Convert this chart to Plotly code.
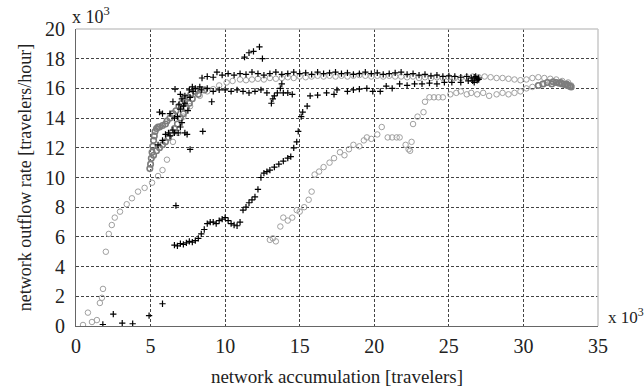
import plotly.graph_objects as go

# ---------------- data (values in thousands) ----------------
# black "+" series 1: low start, left cluster, middle and upper band
blk1_x = [1.8, 2.5, 3.1, 3.8, 4.9, 5.8, 6.7, 7.65, 8.5,
          5.5, 5.8, 6.0, 6.2, 6.3, 6.5, 6.6, 6.85, 7.0, 7.1, 7.3, 7.45,
          5.6, 5.8, 6.3, 6.6, 6.8, 7.0, 7.2, 7.3, 6.5, 6.64, 7.0, 7.3, 7.65, 7.85, 7.5, 6.9, 7.1, 9.1,
          7.6, 8.0, 8.4, 8.8, 9.2, 9.6, 10.0, 10.4, 10.8, 11.2, 11.6, 12.0, 12.4, 12.8,
          13.1, 13.2, 13.3, 13.5, 13.7, 13.8, 13.9, 14.2, 14.5,
          11.3, 11.6, 11.9, 12.3, 12.5,
          7.8, 8.3, 8.45, 8.8, 9.2, 9.45, 9.8, 10.2, 10.6, 11.0, 11.4, 11.8, 12.2, 12.6, 13.0,
          13.4, 13.8, 14.2, 14.6, 15.0, 15.4, 15.8, 16.2, 16.6, 17.0, 17.4, 17.8, 18.2, 18.6,
          19.0, 19.4, 19.8, 20.2, 20.6, 21.0, 21.4, 21.8, 22.2, 22.6, 23.0, 23.4, 23.8, 24.2,
          24.6, 25.0, 25.4, 25.8, 26.2, 26.5, 26.7, 26.9, 27.0]
blk1_y = [0.1, 0.8, 0.2, 0.15, 0.7, 1.5, 8.1, 11.9, 13.1,
          12.2, 12.5, 12.9, 13.0, 12.8, 13.2, 13.0, 13.0, 13.4, 13.7, 13.0, 12.9,
          14.4, 14.3, 14.3, 14.0, 14.1, 14.6, 14.8, 15.0, 15.1, 15.95, 15.6, 15.5, 15.4, 15.8, 14.5, 14.9, 15.3, 15.1,
          15.9, 16.0, 15.9, 16.0, 15.8, 15.9, 15.9, 15.8, 15.9, 15.8, 15.7, 15.8, 15.9, 15.7,
          15.0, 15.3, 15.5, 15.7, 16.0, 16.3, 15.7, 15.7, 15.6,
          18.1, 18.4, 18.5, 18.8, 18.0,
          16.1, 16.1, 16.7, 16.8, 16.75, 17.1, 16.9, 17.0, 16.9, 17.0, 16.95, 17.1, 17.0, 16.9, 17.0,
          17.1, 16.95, 17.0, 17.1, 17.0, 17.05, 16.95, 17.1, 17.0, 17.05, 17.1, 17.0, 17.05, 16.95,
          17.0, 17.1, 17.0, 17.05, 16.95, 17.0, 17.05, 17.1, 16.95, 17.0, 16.9, 16.95, 16.85, 16.9,
          16.8, 16.85, 16.8, 16.75, 16.8, 16.7, 16.75, 16.65, 16.7]

# black "+" series 2: rising branch from ~6.6k
blk2_x = [6.6, 6.8, 7.0, 7.2, 7.4, 7.6, 7.8, 8.0, 8.2, 8.4, 8.6, 8.8, 9.0, 9.2, 9.4, 9.6, 9.8,
          10.0, 10.2, 10.4, 10.6, 10.8, 11.0, 11.2, 11.4, 11.6, 11.8, 12.0, 12.2, 12.4, 12.6,
          12.8, 13.0, 13.3, 13.6, 13.9, 14.2, 14.4, 14.6, 14.8, 14.9, 15.1, 15.2, 15.5, 15.7,
          16.2, 16.8, 17.3, 17.5, 18.2, 18.6, 19.0, 19.5, 19.9, 20.4, 20.8, 21.2, 21.7, 22.2,
          22.7, 23.2, 23.7, 24.2, 24.7, 25.2, 25.8, 26.3, 26.6, 26.9, 27.0, 26.8, 26.7]
blk2_y = [5.45, 5.4, 5.55, 5.5, 5.6, 5.7, 5.65, 5.75, 5.9, 6.2, 6.5, 6.9, 7.0, 7.0, 6.9, 7.1, 7.2,
          7.3, 7.1, 6.9, 6.8, 6.75, 7.0, 7.8, 8.0, 8.3, 8.5, 8.7, 9.2, 10.0, 10.3,
          10.4, 10.5, 10.7, 10.9, 11.1, 11.3, 11.4, 12.0, 12.4, 13.1, 14.1, 14.4, 14.8, 15.5,
          15.55, 15.7, 15.6, 15.9, 15.8, 15.9, 15.95, 16.0, 15.8, 15.8, 16.15, 16.0, 16.3, 16.2,
          16.3, 16.3, 16.35, 16.3, 16.4, 16.4, 16.4, 16.5, 16.5, 16.55, 16.6, 16.8, 16.4]

# light grey circles, series 3: from origin to the upper band
gr1_x = [0.47, 0.8, 1.07, 1.4, 1.6, 1.74, 1.81, 2.0, 2.2, 2.4, 2.6, 2.95, 3.4, 3.75, 4.16,
         4.6, 5.1, 5.5, 5.8, 6.1, 6.5, 6.85, 7.2, 7.65, 8.3, 8.8, 9.2, 9.6, 10.1, 10.5, 11.0,
         11.4, 11.8, 12.2, 12.6, 13.0, 13.4, 13.8, 14.2, 14.6, 15.0, 15.4, 15.8, 16.2, 16.6,
         17.0, 17.4, 17.8, 18.2, 18.6, 19.0, 19.4, 19.8, 20.2, 20.6, 21.0, 21.4, 21.8, 22.2,
         22.6, 23.0, 23.4, 23.8, 24.2, 24.6, 25.0, 25.4, 25.8, 26.2, 26.6, 27.0, 27.4, 27.8,
         28.2, 28.6, 29.0, 29.4, 29.8, 30.2, 30.6, 31.0, 31.4, 31.8, 32.2, 32.6, 33.0, 33.2]
gr1_y = [0.07, 0.9, 0.27, 0.4, 1.55, 1.9, 2.5, 5.0, 6.2, 6.8, 7.3, 7.7, 8.2, 8.6, 9.05,
         9.3, 9.65, 10.1, 10.5, 11.2, 12.4, 13.0, 14.1, 14.8, 15.5, 15.8, 15.95, 16.2, 16.4, 16.5, 16.6,
         16.55, 16.6, 16.65, 16.6, 16.7, 16.65, 16.7, 16.75, 16.7, 16.8, 16.75, 16.8, 16.85, 16.8,
         16.85, 16.8, 16.85, 16.8, 16.85, 16.9, 16.85, 16.8, 16.85, 16.8, 16.85, 16.8, 16.8, 16.75,
         16.8, 16.7, 16.75, 16.7, 16.75, 16.7, 16.75, 16.7, 16.7, 16.75, 16.8, 16.75, 16.8, 16.75,
         16.7, 16.7, 16.65, 16.6, 16.55, 16.6, 16.7, 16.75, 16.7, 16.65, 16.6, 16.5, 16.4, 16.2]

# light grey circles, series 4: from ~13k to the lower band
gr2_x = [13.0, 13.2, 13.4, 13.7, 13.9, 14.2, 14.5, 14.8, 15.0, 15.3, 15.6, 15.8, 16.0, 16.3,
         16.6, 17.0, 17.3, 17.7, 18.0, 18.3, 18.6, 19.0, 19.3, 19.5, 19.8, 20.2, 20.5, 20.9,
         21.2, 21.5, 21.7, 22.1, 22.3, 22.4, 22.5, 22.6, 22.9, 23.3, 23.4, 23.7, 24.0, 24.3,
         24.6, 25.1, 25.5, 25.8, 26.2, 26.5, 26.9, 27.3, 27.7, 28.2, 28.6, 29.0, 29.4, 29.8,
         30.2, 30.6, 31.0, 31.4, 31.8, 32.2, 32.6, 32.9]
gr2_y = [5.8, 5.9, 5.7, 6.7, 7.3, 7.1, 7.3, 7.8, 7.7, 8.0, 8.5, 9.05, 10.2, 10.4,
         10.7, 11.0, 11.3, 11.7, 11.5, 11.9, 12.2, 12.1, 12.5, 12.7, 12.6, 12.9, 13.4, 12.7,
         12.7, 12.7, 12.7, 12.2, 11.9, 11.8, 12.4, 13.6, 14.1, 14.4, 15.1, 15.4, 15.4, 15.4,
         15.4, 15.6, 15.7, 15.8, 15.6, 15.7, 15.6, 15.7, 15.5, 15.6, 15.7, 15.6, 15.7, 15.8,
         16.0, 16.1, 16.2, 16.3, 16.4, 16.4, 16.3, 16.2]

# darker grey circles, series 5: dense cluster at left and at the right end
dg_x = [4.95, 5.0, 5.05, 5.1, 5.15, 5.2, 5.25, 5.3, 5.4, 5.5, 5.6, 5.8, 6.0, 6.1, 6.3, 6.5,
        6.7, 6.9, 7.1, 7.3, 7.5, 7.7, 8.0,
        5.2, 5.4, 5.6, 5.8, 6.0, 6.2, 6.4, 6.6, 6.8, 7.0, 7.2, 7.4, 7.6, 7.8, 8.2, 8.6,
        31.0, 31.3, 31.6, 31.9, 32.2, 32.4, 32.6, 32.8, 33.0, 33.1, 33.2, 32.9, 32.5, 32.0]
dg_y = [10.6, 10.9, 11.3, 11.7, 12.1, 12.5, 12.8, 13.1, 13.3, 13.4, 13.4, 13.5, 13.6, 13.8, 14.0, 14.3,
        14.5, 14.8, 15.0, 15.2, 15.4, 15.6, 15.8,
        11.5, 11.8, 12.0, 12.2, 12.4, 12.7, 13.0, 13.3, 13.6, 14.0, 14.3, 14.7, 15.0, 15.3, 15.6, 15.9,
        16.2, 16.3, 16.4, 16.3, 16.4, 16.35, 16.3, 16.25, 16.2, 16.15, 16.1, 16.3, 16.4, 16.45]

x_ticks = [0, 5, 10, 15, 20, 25, 30, 35]
y_ticks = [0, 2, 4, 6, 8, 10, 12, 14, 16, 18, 20]

FONT = "Liberation Serif"
TXT = "#222"

fig = go.Figure()
circle_style = dict(symbol="circle-open", size=5.5, color="#a0a0a0", line=dict(width=1))
fig.add_trace(go.Scatter(x=gr1_x, y=gr1_y, mode="markers", name="s3", marker=circle_style))
fig.add_trace(go.Scatter(x=gr2_x, y=gr2_y, mode="markers", name="s4", marker=circle_style))
fig.add_trace(go.Scatter(x=dg_x, y=dg_y, mode="markers", name="s5",
                         marker=dict(symbol="circle-open", size=5.5, color="#7d7d7d",
                                     line=dict(width=1.6))))
plus_style = dict(symbol="cross-thin", size=4.5, color="black", line=dict(width=1.2, color="black"))
fig.add_trace(go.Scatter(x=blk1_x, y=blk1_y, mode="markers", name="s1", marker=plus_style))
fig.add_trace(go.Scatter(x=blk2_x, y=blk2_y, mode="markers", name="s2", marker=plus_style))

tickfont = dict(family=FONT, size=20, color=TXT)

fig.update_layout(
    width=644, height=387, showlegend=False,
    margin=dict(l=76, r=46, t=29, b=61, autoexpand=False),
    paper_bgcolor="white", plot_bgcolor="white",
    font=dict(family=FONT, size=18, color=TXT),
    xaxis=dict(range=[0, 35], tickmode="array", tickvals=x_ticks, automargin=False,
               ticktext=[str(v) for v in x_ticks], tickfont=tickfont, ticklabelstandoff=2,
               showgrid=True, gridcolor="#444", gridwidth=1, griddash="3px,2px",
               zeroline=False, ticks="", showline=True, linecolor="#666", linewidth=1,
               title=dict(text="network accumulation [travelers]",
                          font=dict(family=FONT, size=19, color=TXT), standoff=18)),
    yaxis=dict(range=[0, 20], tickmode="array", tickvals=y_ticks, automargin=False,
               ticktext=[str(v) for v in y_ticks], tickfont=tickfont, ticklabelstandoff=6,
               showgrid=True, gridcolor="#444", gridwidth=1, griddash="3px,2px",
               zeroline=False, ticks="", showline=True, linecolor="#666", linewidth=1,
               title=dict(text="network outflow rate [travelers/hour]",
                          font=dict(family=FONT, size=18, color=TXT), standoff=8)),
)

# light top/right frame
fig.add_shape(type="line", xref="paper", yref="paper", x0=0, x1=1, y0=1, y1=1,
              line=dict(color="#c8c8c8", width=1.5))
fig.add_shape(type="line", xref="paper", yref="paper", x0=1, x1=1, y0=0, y1=1,
              line=dict(color="#c8c8c8", width=1.5))

fig.add_annotation(text="x 10<sup>3</sup>", xref="paper", yref="paper", x=-0.012, y=1.0,
                   xanchor="left", yanchor="bottom", showarrow=False,
                   font=dict(family=FONT, size=18, color=TXT))
fig.add_annotation(text="x 10<sup>3</sup>", xref="paper", yref="paper", x=1.015, y=0.035,
                   xanchor="left", yanchor="middle", showarrow=False,
                   font=dict(family=FONT, size=17, color=TXT))

fig.write_html("out.html")
